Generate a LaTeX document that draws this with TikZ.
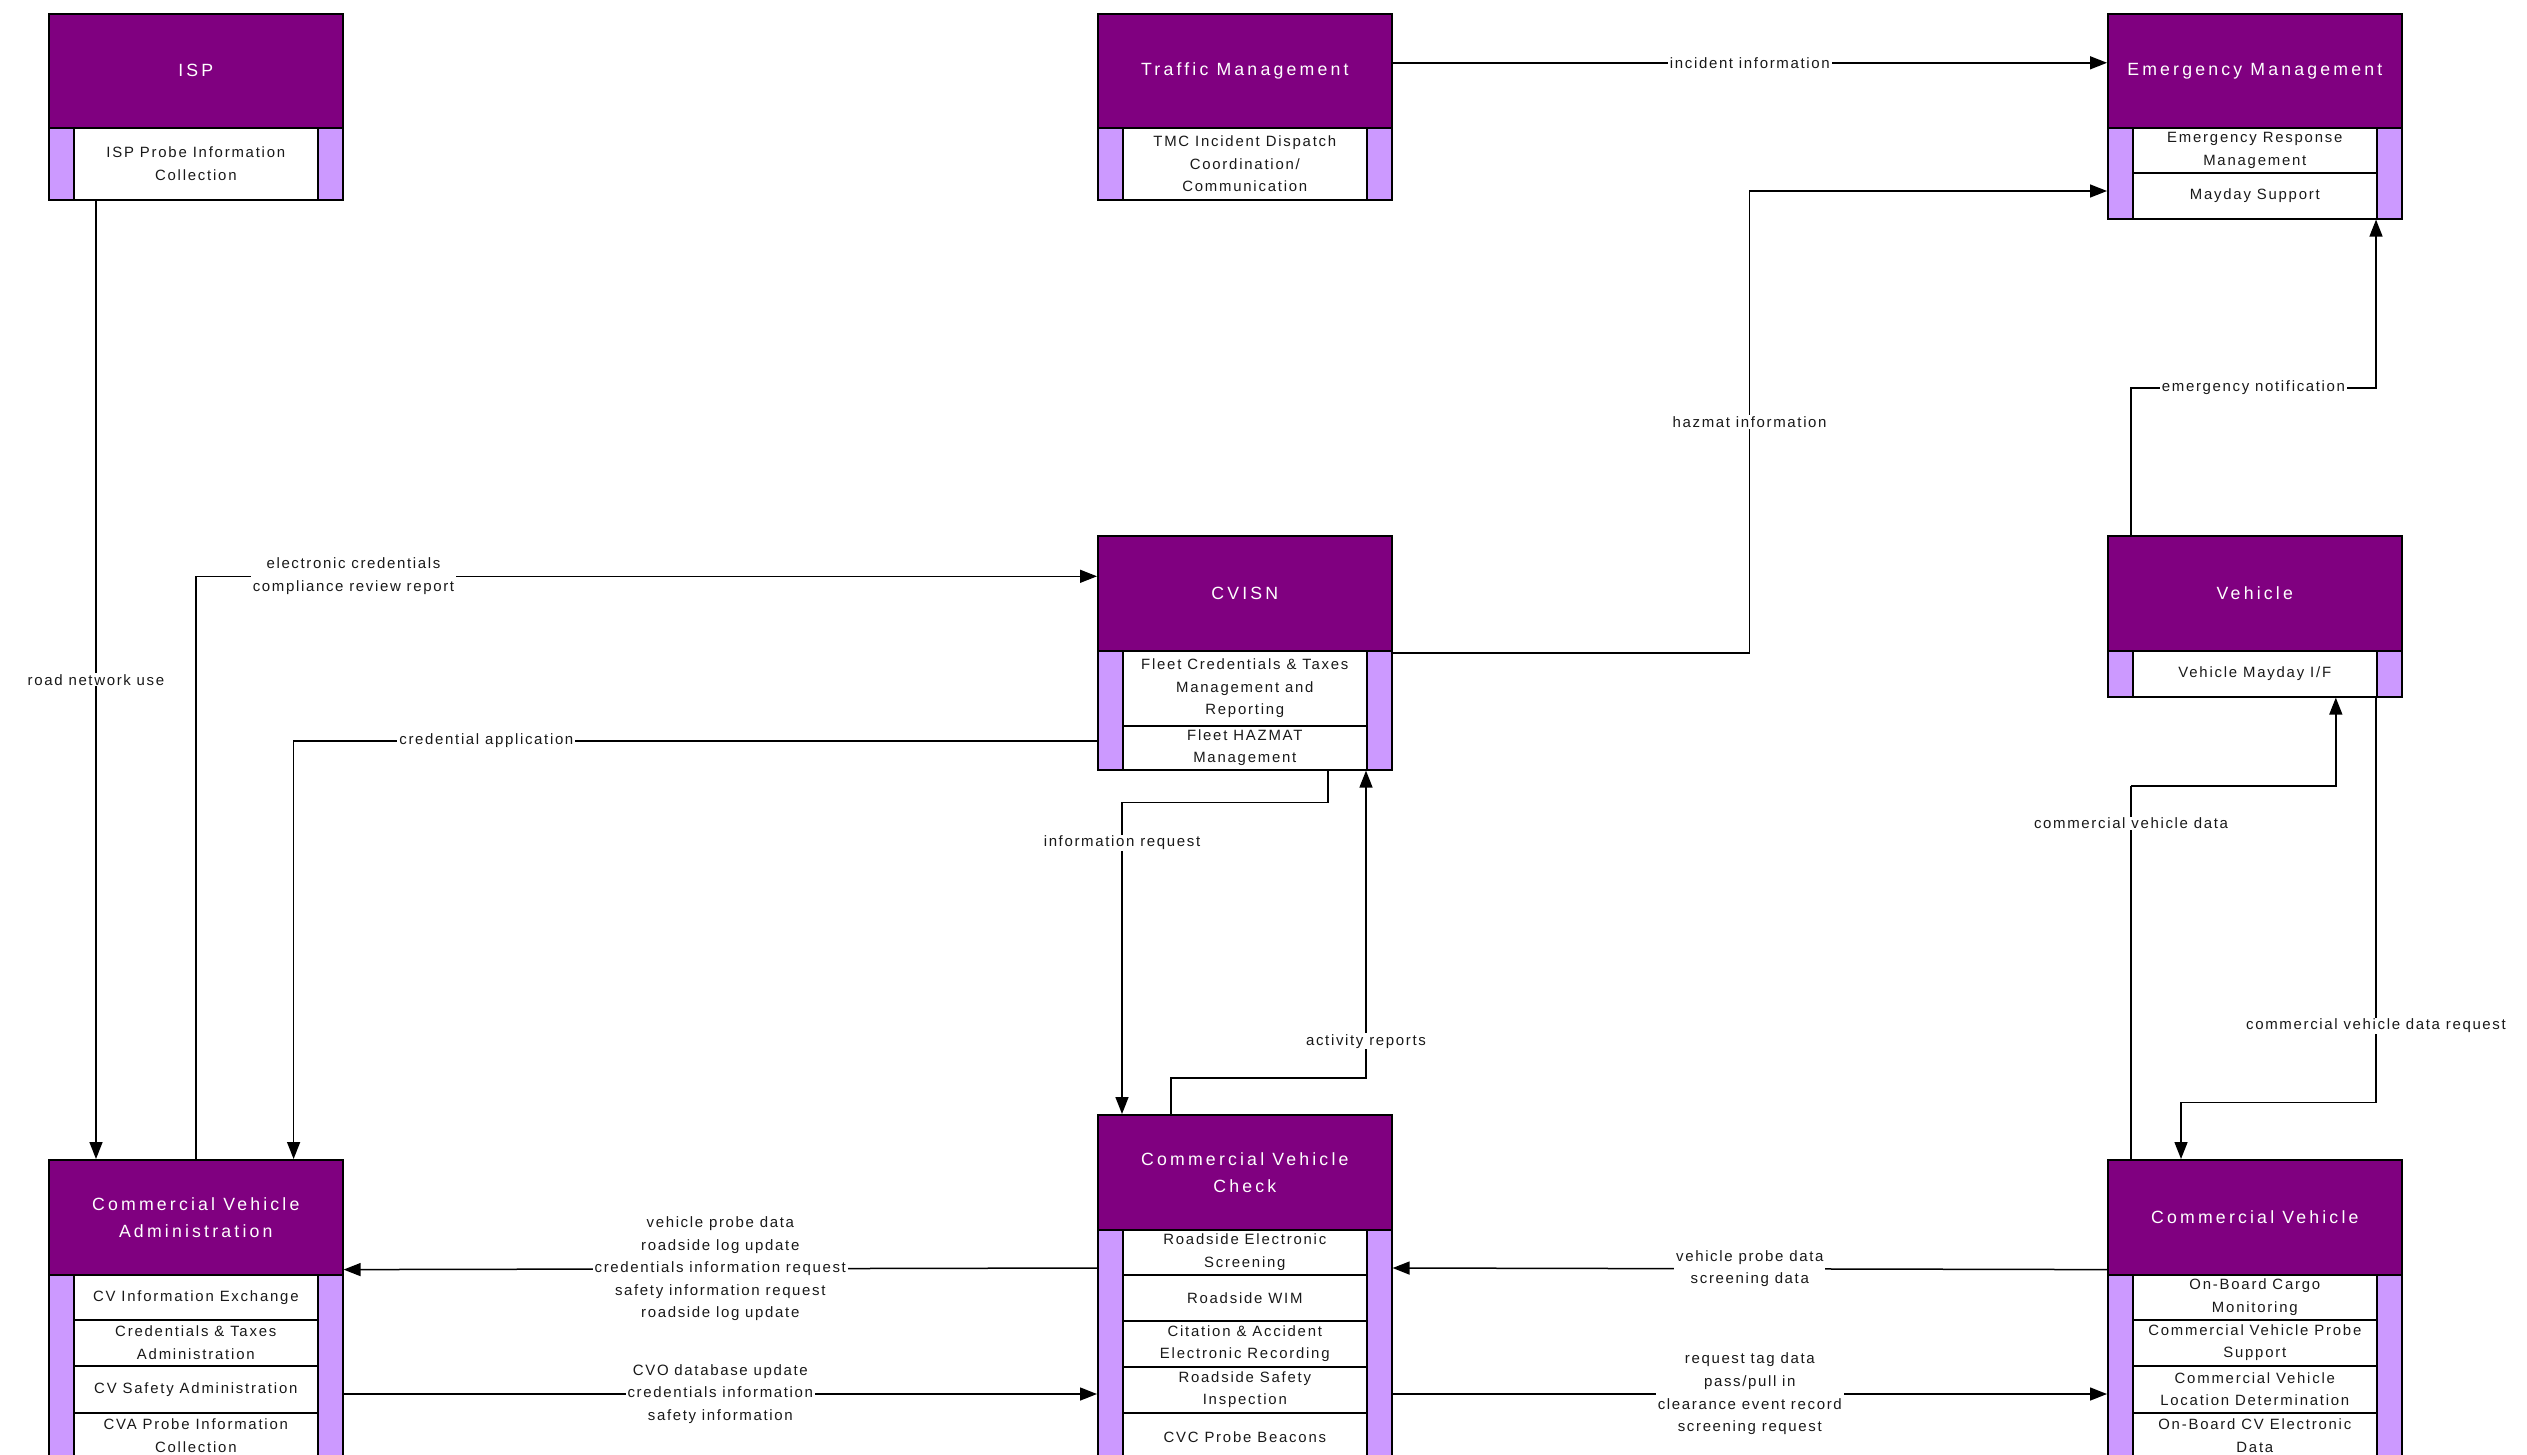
\documentclass[tikz,border=0pt]{standalone}
\usepackage{fontspec}
\usetikzlibrary{arrows.meta,calc}
\newfontfamily\hdrfont[LetterSpace=18]{Liberation Sans}
\newfontfamily\rowfont[LetterSpace=12]{Liberation Sans}
\newfontfamily\lblfont[LetterSpace=11]{Liberation Sans}
\definecolor{hpurple}{RGB}{128,0,128}
\definecolor{lav}{RGB}{204,153,255}
\begin{document}
\begin{tikzpicture}[x=1pt,y=-1pt,
  hdr/.style={draw=black, line width=1.6pt, fill=hpurple, text=white,
    font=\hdrfont\fontsize{17.7pt}{27pt}\selectfont, align=center,
    minimum width=294pt, minimum height=#1, anchor=north west, inner sep=0pt},
  rowbox/.style={draw=black, line width=1.6pt, fill=white, text=black!90,
    font=\rowfont\fontsize{14.9pt}{22.4pt}\selectfont, align=center,
    minimum width=244pt, minimum height=#1, anchor=north west, inner sep=0pt},
  bar/.style={draw=black, line width=1.6pt, fill=lav,
    minimum width=25pt, minimum height=#1, anchor=north west, inner sep=0pt},
  conn/.style={draw=black, line width=1.5pt},
  arr/.style={conn, -{Triangle[length=17pt,width=13pt]}},
  lbl/.style={fill=white, text=black!90, font=\lblfont\fontsize{15pt}{22.6pt}\selectfont,
    align=center, inner xsep=2pt, inner ysep=1pt}
]
\useasboundingbox (0,0) rectangle (2527,1454);
\clip (0,0) rectangle (2527,1454);
\fill[white] (0,0) rectangle (2527,1454);

% ISP
\node[bar=72pt] (ispL) at (48,127) {};
\node[bar=72pt] (ispR) at (317,127) {};
\node[rowbox=72pt] (ispS1) at (73,127) {ISP Probe Information\\Collection};
\node[hdr=114pt] (ispH) at (48,13) {ISP};

% Traffic Management
\node[bar=72pt] (tmL) at (1097,127) {};
\node[bar=72pt] (tmR) at (1366,127) {};
\node[rowbox=72pt] (tmS1) at (1122,127) {TMC Incident Dispatch\\Coordination/\\Communication};
\node[hdr=114pt] (tmH) at (1097,13) {Traffic Management};

% Emergency Management
\node[bar=91pt] (emL) at (2107,127) {};
\node[bar=91pt] (emR) at (2376,127) {};
\node[rowbox=45pt] (emS1) at (2132,127) {Emergency Response\\Management};
\node[rowbox=46pt] (emS2) at (2132,172) {Mayday Support};
\node[hdr=114pt] (emH) at (2107,13) {Emergency Management};

% CVISN
\node[bar=119pt] (cvsL) at (1097,650) {};
\node[bar=119pt] (cvsR) at (1366,650) {};
\node[rowbox=75pt] (cvsS1) at (1122,650) {Fleet Credentials \& Taxes\\Management and\\Reporting};
\node[rowbox=44pt] (cvsS2) at (1122,725) {Fleet HAZMAT\\Management};
\node[hdr=115pt] (cvsH) at (1097,535) {CVISN};

% Vehicle
\node[bar=46pt] (vhL) at (2107,650) {};
\node[bar=46pt] (vhR) at (2376,650) {};
\node[rowbox=46pt] (vhS1) at (2132,650) {Vehicle Mayday I/F};
\node[hdr=115pt] (vhH) at (2107,535) {Vehicle};

% Commercial Vehicle Administration
\node[bar=200pt] (cvaL) at (48,1274) {};
\node[bar=200pt] (cvaR) at (317,1274) {};
\node[rowbox=45pt] (cvaS1) at (73,1274) {CV Information Exchange};
\node[rowbox=46pt] (cvaS2) at (73,1319) {Credentials \& Taxes\\Administration};
\node[rowbox=47pt] (cvaS3) at (73,1365) {CV Safety Administration};
\node[rowbox=46pt] (cvaS4) at (73,1412) {CVA Probe Information\\Collection};
\node[hdr=115pt] (cvaH) at (48,1159) {Commercial Vehicle\\Administration};

% Commercial Vehicle Check
\node[bar=240pt] (cvcL) at (1097,1229) {};
\node[bar=240pt] (cvcR) at (1366,1229) {};
\node[rowbox=45pt] (cvcS1) at (1122,1229) {Roadside Electronic\\Screening};
\node[rowbox=46pt] (cvcS2) at (1122,1274) {Roadside WIM};
\node[rowbox=46pt] (cvcS3) at (1122,1320) {Citation \& Accident\\Electronic Recording};
\node[rowbox=46pt] (cvcS4) at (1122,1366) {Roadside Safety\\Inspection};
\node[rowbox=48pt] (cvcS5) at (1122,1412) {CVC Probe Beacons};
\node[hdr=115pt] (cvcH) at (1097,1114) {Commercial Vehicle\\Check};

% Commercial Vehicle
\node[bar=200pt] (cvL) at (2107,1274) {};
\node[bar=200pt] (cvR) at (2376,1274) {};
\node[rowbox=45pt] (cvS1) at (2132,1274) {On-Board Cargo\\Monitoring};
\node[rowbox=46pt] (cvS2) at (2132,1319) {Commercial Vehicle Probe\\Support};
\node[rowbox=47pt] (cvS3) at (2132,1365) {Commercial Vehicle\\Location Determination};
\node[rowbox=46pt] (cvS4) at (2132,1412) {On-Board CV Electronic\\Data};
\node[hdr=115pt] (cvH) at (2107,1159) {Commercial Vehicle};

% Connectors
\draw[arr] ([yshift=8pt]tmH.east) -- node[lbl]{incident information} ([yshift=8pt]emH.west);

\draw[arr] ([yshift=-3pt]cvsR.north east) -- ++(357,0)
  |- node[lbl,pos=0.25]{hazmat information} ([yshift=-64pt]emL.north west);

\draw[arr] ([xshift=24pt]vhH.north west) -- ++(0,-147)
  -| node[lbl,pos=0.25]{emergency notification} (emR.south west);

\draw[conn] ([xshift=24pt]cvH.north west) -- node[lbl,pos=0.9]{commercial vehicle data} ++(0,-373) coordinate (cvdA);
\draw[arr] (cvdA) -| ([xshift=81pt]vhS1.south);

\draw[conn] (vhR.south west) -- node[lbl,pos=0.81]{commercial vehicle data request} ++(0,405) coordinate (cvdrA);
\draw[arr] (cvdrA) -| ([xshift=74pt]cvH.north west);

\draw[arr] ([yshift=6pt]cvH.south west) -- node[lbl]{vehicle probe data\\screening data} ([yshift=-39pt]cvcR.north east);

\draw[arr] ([yshift=-165pt]cvcR.north east) -- node[lbl]{request tag data\\pass/pull in\\clearance event record\\screening request} ([yshift=-120pt]cvL.north west);

\draw[arr] ([yshift=-39pt]cvcL.north west) -- node[lbl]{vehicle probe data\\roadside log update\\credentials information request\\safety information request\\roadside log update} ([yshift=6pt]cvaH.south east);

\draw[arr] ([yshift=-120pt]cvaR.north east) -- node[lbl]{CVO database update\\credentials information\\safety information} ([yshift=-165pt]cvcL.north west);

\draw[arr] ([xshift=23pt]ispS1.south west) -- node[lbl]{road network use} ([xshift=48pt]cvaH.north west);

\draw[arr] (cvaH.north) |- node[lbl,pos=0.5875]{electronic credentials\\compliance review report} ([yshift=17pt]cvsH.west);

\draw[arr] ([yshift=-91pt]cvsL.north west) -| node[lbl,pos=0.38]{credential application} ([xshift=-50pt]cvaH.north east);

\draw[arr] ([xshift=83pt]cvsS2.south) -- ++(0,32)
  -| node[lbl,pos=0.565]{information request} ([xshift=25pt]cvcH.north west);

\draw[arr] ([xshift=74pt]cvcH.north west) -- ++(0,-36)
  -| node[lbl,pos=0.56]{activity reports} (cvsR.south west);
\end{tikzpicture}
\end{document}
